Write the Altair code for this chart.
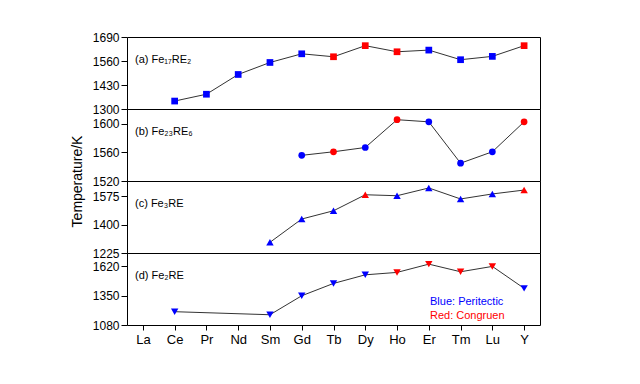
import altair as alt
import pandas as pd

elements = ["La", "Ce", "Pr", "Nd", "Sm", "Gd", "Tb", "Dy", "Ho", "Er", "Tm", "Lu", "Y"]

a_el = ["Ce", "Pr", "Nd", "Sm", "Gd", "Tb", "Dy", "Ho", "Er", "Tm", "Lu", "Y"]
a_T = [1343, 1380, 1487, 1552, 1599, 1583, 1643, 1610, 1619, 1567, 1585, 1643]
a_type = ["P", "P", "P", "P", "P", "C", "C", "C", "P", "P", "P", "C"]

b_el = ["Gd", "Tb", "Dy", "Ho", "Er", "Tm", "Lu", "Y"]
b_T = [1556, 1561, 1567, 1606, 1603, 1545, 1561, 1603]
b_type = ["P", "C", "P", "C", "P", "P", "P", "C"]

c_el = ["Sm", "Gd", "Tb", "Dy", "Ho", "Er", "Tm", "Lu", "Y"]
c_T = [1291, 1435, 1486, 1585, 1579, 1627, 1559, 1590, 1614]
c_type = ["P", "P", "P", "C", "P", "P", "P", "P", "C"]

d_el = ["Ce", "Sm", "Gd", "Tb", "Dy", "Ho", "Er", "Tm", "Lu", "Y"]
d_T = [1202, 1174, 1348, 1461, 1540, 1562, 1638, 1568, 1617, 1416]
d_type = ["P", "P", "P", "P", "P", "C", "C", "C", "C", "P"]

legend_texts = ["Blue: Peritectic", "Red: Congruen"]
legend_colors = ["#0000ff", "#ff0000"]

W, H = 413, 72

color_scale = alt.Scale(domain=["P", "C"], range=["#0000ff", "#ff0000"])
x_scale = alt.Scale(domain=elements, padding=0.5)


def panel(el, T, typ, shape, domain, ticks, label, show_x=False, ytitle=None, extra=None,
          size=50):
    df = pd.DataFrame({"el": el, "T": T, "type": typ})
    if show_x:
        xax = alt.Axis(title=None, labelFontSize=13, labelAngle=0, tickSize=5,
                       labelPadding=3, domain=False, grid=False)
    else:
        xax = None
    yax_kwargs = dict(values=ticks, tickSize=6, labelPadding=2, labelFontSize=12,
                      grid=False, domain=False, format="d")
    if ytitle:
        yax_kwargs.update(title=ytitle, titleFontSize=14, titleFontWeight="normal",
                          titleY=H, titlePadding=8)
    else:
        yax_kwargs.update(title=None)
    x = alt.X("el:O", scale=x_scale, axis=xax, sort=elements)
    y = alt.Y("T:Q", scale=alt.Scale(domain=domain, nice=False, zero=False),
              axis=alt.Axis(**yax_kwargs))
    base = alt.Chart(df).encode(x=x, y=y)
    line = base.mark_line(color="#333333", strokeWidth=1)
    pts = base.mark_point(filled=True, shape=shape, size=size, opacity=1).encode(
        color=alt.Color("type:N", scale=color_scale, legend=None))
    lab = alt.Chart(pd.DataFrame({"t": [label]})).mark_text(
        align="left", baseline="middle", fontSize=11, color="black"
    ).encode(x=alt.value(8), y=alt.value(23), text="t:N")
    layers = [line, pts, lab]
    if extra:
        layers += extra
    return alt.layer(*layers).properties(width=W, height=H)


legend_df = pd.DataFrame({"t": legend_texts, "c": legend_colors, "yy": [49, 63]})
legend_txt = alt.Chart(legend_df).mark_text(
    align="left", baseline="middle", fontSize=11
).encode(x=alt.value(303), y=alt.Y("yy:Q", scale=None, axis=None),
         text="t:N", color=alt.Color("c:N", scale=None))

pa = panel(a_el, a_T, a_type, "square", [1300, 1690], [1300, 1430, 1560, 1690],
           "(a) Fe\u2081\u2087RE\u2082", size=45)
pb = panel(b_el, b_T, b_type, "circle", [1520, 1621], [1520, 1560, 1600],
           "(b) Fe\u2082\u2083RE\u2086", ytitle="Temperature/K", size=45)
pc = panel(c_el, c_T, c_type, "triangle-up", [1225, 1670], [1225, 1400, 1575],
           "(c) Fe\u2083RE", size=55)
pd_ = panel(d_el, d_T, d_type, "triangle-down", [1080, 1740], [1080, 1350, 1620],
            "(d) Fe\u2082RE", show_x=True, extra=[legend_txt], size=55)

chart = alt.vconcat(pa, pb, pc, pd_, spacing=0, bounds="flush").resolve_scale(
    y="independent", color="shared"
).properties(
    padding={"left": 61, "top": 22, "right": 5, "bottom": 5}
).configure(font="Liberation Sans").configure_view(
    stroke="black", strokeWidth=1
).configure_axis(
    labelColor="black", tickColor="black", titleColor="black", labelFont="Liberation Sans",
    titleFont="Liberation Sans"
)

chart.save("out.html", embed_options={"renderer": "svg", "actions": False})
